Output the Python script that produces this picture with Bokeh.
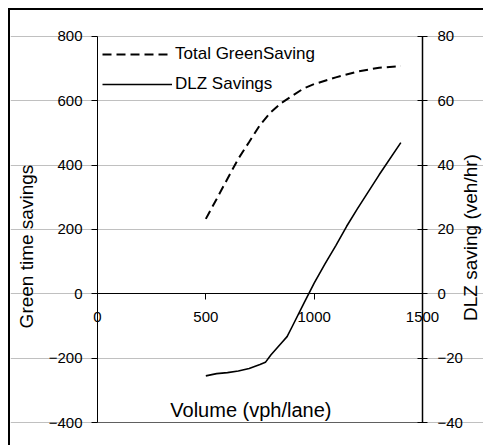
from bokeh.plotting import figure
from bokeh.models import (Range1d, LinearAxis, Grid, FixedTicker, Legend, LegendItem, Label)
from bokeh.embed import file_html
from bokeh.resources import INLINE
import math

# ---- data ----
volume_total = [500, 550, 600, 650, 700, 750, 800, 850, 900, 950, 1000, 1100, 1200, 1300, 1400]
total_green_saving = [233, 295, 358, 420, 472, 525, 565, 594, 616, 638, 652, 673, 691, 703, 708]

volume_dlz = [500, 550, 600, 650, 700, 750, 775, 800, 850, 875, 900, 950, 1000, 1050, 1100,
              1150, 1200, 1300, 1400]
dlz_savings = [-25.5, -24.8, -24.5, -24.0, -23.2, -22.0, -21.3, -19.0, -15.2, -13.3, -10.0,
               -3.3, 3.3, 9.3, 15.0, 21.0, 26.5, 37.0, 47.0]

x_ticks = [0, 500, 1000, 1500]
left_ticks = [-400, -200, 0, 200, 400, 600, 800]
right_ticks = [-40, -20, 0, 20, 40, 60, 80]

FONT = "Liberation Sans"

# frame covers the whole canvas; axes are drawn at fixed data locations
p = figure(width=475, height=437,
           x_range=Range1d(-401.5, 1790.8), y_range=Range1d(-477.7, 880.8),
           output_backend="svg", toolbar_location=None,
           x_axis_location=None, y_axis_location=None,
           min_border=0, min_border_left=0, min_border_right=0,
           min_border_top=0, min_border_bottom=0)
p.extra_y_ranges = {"dlz": Range1d(-47.77, 88.08)}
p.center = [r for r in p.center if not isinstance(r, Grid)]
p.outline_line_color = None
p.background_fill_color = "white"
p.border_fill_color = "white"
p.styles = {"margin-left": "8px", "margin-top": "8px",
            "border-left": "2px solid black", "border-top": "2px solid black"}

grid = Grid(dimension=1, ticker=FixedTicker(ticks=left_ticks), bounds=(0, 1500))
grid.grid_line_color = "#c0c0c0"
grid.grid_line_width = 1
p.add_layout(grid)

# axes
ax_left = LinearAxis(ticker=FixedTicker(ticks=left_ticks), fixed_location=0, bounds=(-400, 800))
ax_left.major_tick_out = 6
ax_left.major_tick_in = 0
ax_left.major_label_standoff = 9
p.add_layout(ax_left, "left")

ax_right = LinearAxis(y_range_name="dlz", ticker=FixedTicker(ticks=right_ticks),
                      fixed_location=1500, bounds=(-40, 80))
ax_right.major_tick_out = 5
ax_right.major_tick_in = 5
ax_right.major_label_standoff = 10
ax_right.axis_line_width = 1.5
p.add_layout(ax_right, "right")

ax_bottom = LinearAxis(ticker=FixedTicker(ticks=x_ticks), fixed_location=0, bounds=(0, 1500))
ax_bottom.major_tick_out = 6
ax_bottom.major_tick_in = 0
ax_bottom.major_label_standoff = 12
p.add_layout(ax_bottom, "below")

ax_floor = LinearAxis(ticker=FixedTicker(ticks=[]), fixed_location=-400, bounds=(0, 1500))
ax_floor.major_label_text_alpha = 0
ax_floor.axis_line_color = "#606060"
p.add_layout(ax_floor, "below")

for ax in (ax_left, ax_right, ax_bottom, ax_floor):
    ax.minor_tick_out = 0
    ax.minor_tick_in = 0
    ax.major_label_text_font = FONT
    ax.major_label_text_font_size = "15px"
    ax.major_label_text_color = "black"
for ax in (ax_left, ax_right, ax_bottom):
    ax.axis_line_color = "black"
    ax.major_tick_line_color = "black"

# data lines
r_total = p.line(volume_total, total_green_saving, line_color="black", line_width=2,
                 line_dash="9 5")
r_dlz = p.line(volume_dlz, dlz_savings, line_color="black", line_width=1.6,
               y_range_name="dlz")

legend = Legend(items=[LegendItem(label="Total GreenSaving", renderers=[r_total]),
                       LegendItem(label="DLZ Savings", renderers=[r_dlz])],
                location=(92, 353))
legend.margin = 0
legend.padding = 0
legend.spacing = 10
legend.glyph_width = 70
legend.glyph_height = 20
legend.label_height = 20
legend.label_standoff = 3
legend.border_line_color = None
legend.background_fill_alpha = 0
legend.label_text_font = FONT
legend.label_text_font_size = "17px"
legend.label_text_color = "black"
p.add_layout(legend)

# axis titles
p.add_layout(Label(x=708, y=-362, text="Volume (vph/lane)", text_align="center",
                   text_baseline="middle", text_font=FONT, text_font_size="20px",
                   text_color="black"))
p.add_layout(Label(x=-327, y=147, text="Green time savings", text_align="center",
                   text_baseline="middle", angle=math.pi / 2, text_font=FONT,
                   text_font_size="19px", text_color="black"))
p.add_layout(Label(x=1721, y=175, text="DLZ saving (veh/hr)", text_align="center",
                   text_baseline="middle", angle=math.pi / 2, text_font=FONT,
                   text_font_size="19px", text_color="black"))

open("out.html", "w").write(file_html(p, INLINE))
